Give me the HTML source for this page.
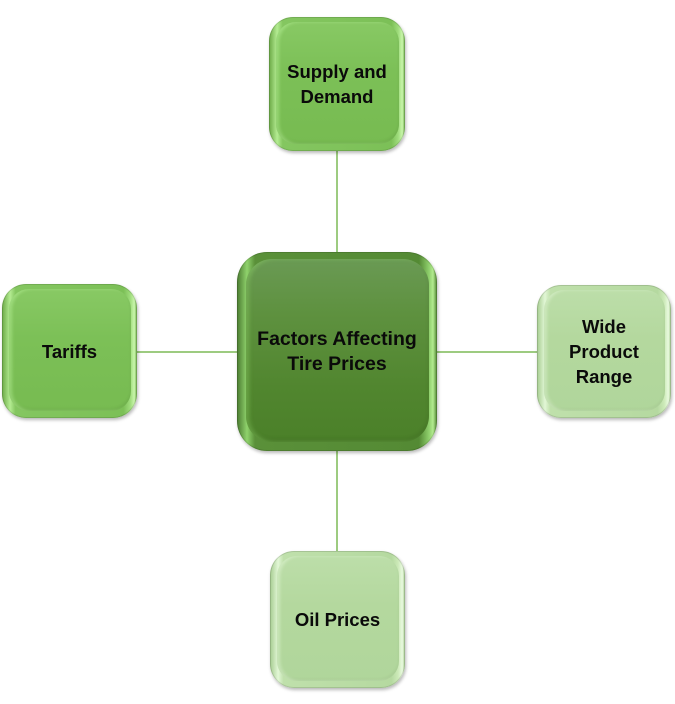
<!DOCTYPE html>
<html>
<head>
<meta charset="utf-8">
<style>
html,body{margin:0;padding:0;background:#fff;}
body{width:675px;height:704px;position:relative;overflow:hidden;font-family:"Liberation Sans",Arial,sans-serif;}
.line{position:absolute;background:#9dcb80;}
.box{position:absolute;box-sizing:border-box;border-radius:24px;
  box-shadow:1px 2px 3px rgba(0,0,0,0.28), inset 0 0 0 1px rgba(0,0,0,0.12);}
.box .in{position:absolute;left:7px;right:6px;top:5px;bottom:7px;border-radius:20px;}
.box .lbl{position:absolute;left:0;right:0;top:0;bottom:0;display:flex;align-items:center;justify-content:center;text-align:center;
  font-weight:bold;font-size:18.5px;line-height:25px;color:#0a0a0a;}
.med{background:linear-gradient(to right,#6aa845 0%,#b4ec92 6%,#84c660 10%,#7cc057 90%,#9fdc7c 95%,#c9f6ab 98%,#6fae4b 100%);}
.med .in{background:linear-gradient(#88c964,#7cc057 40%,#77bb51);box-shadow:inset 3px 0 3px rgba(200,255,170,0.4),inset 0 -2px 3px rgba(0,0,0,0.08);}
.lt{background:linear-gradient(to right,#a6cc90 0%,#e2f7d6 6%,#bfe0ab 10%,#b5d9a0 90%,#cdeab9 95%,#e9fadf 98%,#a7cc90 100%);}
.lt .in{background:linear-gradient(#bcdea9,#b4d89e 40%,#b0d69b);box-shadow:inset 3px 0 3px rgba(240,255,230,0.4),inset 0 -2px 3px rgba(0,0,0,0.05);}
.ctr{border-radius:30px;background:linear-gradient(to right,#4a7a30 0%,#8fd26c 5%,#5a9039 9%,#548a34 91%,#8fcf6c 96%,#b2ea8f 98%,#4f8430 100%);}
.ctr .in{left:9px;right:8px;top:7px;bottom:9px;border-radius:26px;background:linear-gradient(#6a9a54,#5e913f 30%,#51862f 70%,#4b8029);box-shadow:inset 3px 0 4px rgba(150,220,110,0.4),inset 0 -3px 4px rgba(0,0,0,0.1);}
</style>
</head>
<body>
<div class="line" style="left:336px;top:150px;width:2px;height:103px;"></div>
<div class="line" style="left:336px;top:450px;width:2px;height:102px;"></div>
<div class="line" style="left:136px;top:351px;width:102px;height:2px;"></div>
<div class="line" style="left:436px;top:351px;width:102px;height:2px;"></div>

<div class="box med" style="left:269px;top:17px;width:136px;height:134px;"><div class="in"></div><div class="lbl">Supply and<br>Demand</div></div>

<div class="box med" style="left:2px;top:284px;width:135px;height:134px;"><div class="in"></div><div class="lbl">Tariffs</div></div>

<div class="box lt" style="left:537px;top:285px;width:134px;height:133px;"><div class="in"></div><div class="lbl">Wide<br>Product<br>Range</div></div>

<div class="box lt" style="left:270px;top:551px;width:135px;height:137px;"><div class="in"></div><div class="lbl">Oil Prices</div></div>

<div class="box ctr" style="left:237px;top:252px;width:200px;height:199px;"><div class="in"></div><div class="lbl" style="font-size:19.5px;">Factors Affecting<br>Tire Prices</div></div>
</body>
</html>
